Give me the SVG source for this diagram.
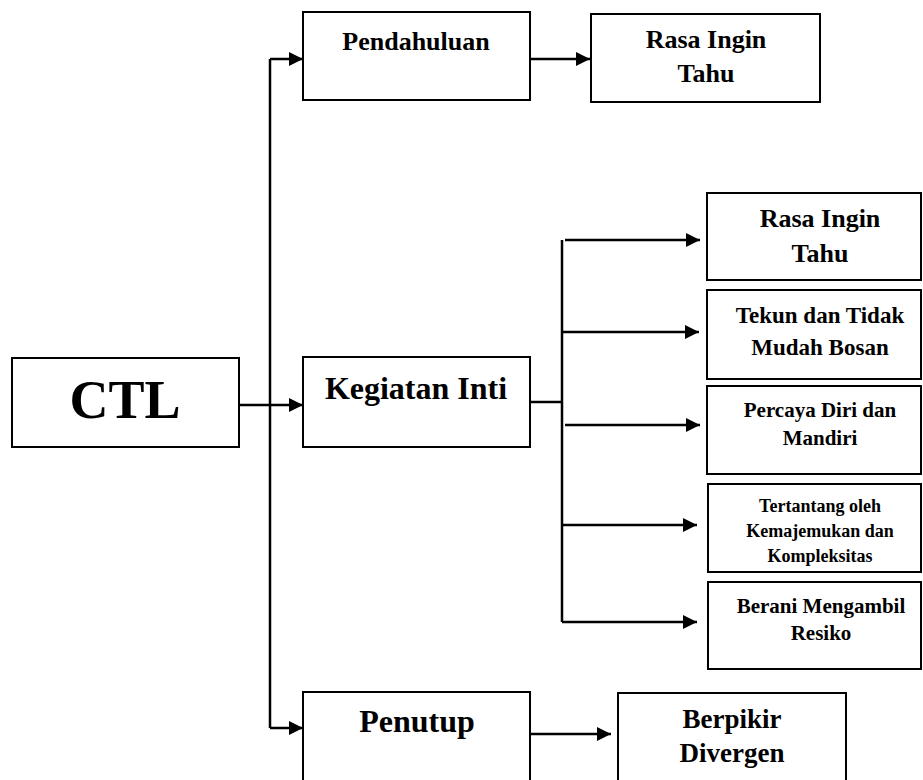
<svg xmlns="http://www.w3.org/2000/svg" width="923" height="780" viewBox="0 0 923 780">
<style>
.box{fill:#fff;stroke:#000;stroke-width:2}
.ln{fill:none;stroke:#000;stroke-width:2.5}
.ar{fill:none;stroke:#000;stroke-width:2.5;marker-end:url(#ah)}
text{font-family:"Liberation Serif","Times New Roman",serif;font-weight:bold;fill:#000;text-anchor:middle}
</style>
<defs>
<marker id="ah" markerUnits="userSpaceOnUse" markerWidth="15" markerHeight="14" refX="14" refY="7" orient="auto">
<path d="M0,0 L14,7 L0,14 z" fill="#000"/>
</marker>
</defs>
<rect width="923" height="780" fill="#fff"/>
<g id="connectors">
<path class="ln" d="M270,59 V728"/>
<path class="ar" d="M270,59 H303"/>
<path class="ar" d="M239,405 H303"/>
<path class="ar" d="M270,728 H303"/>
<path class="ar" d="M530,59 H590"/>
<path class="ar" d="M528,734 H611"/>
<path class="ln" d="M530,402 H562"/>
<path class="ln" d="M562,240 V622"/>
<path class="ar" d="M565,240 H700"/>
<path class="ar" d="M562,332 H699"/>
<path class="ar" d="M565,425 H700"/>
<path class="ar" d="M562,525 H697"/>
<path class="ar" d="M562,622 H697"/>
</g>
<g id="ctl"><rect class="box" x="12" y="358" width="227" height="89"/><text x="125" y="418" font-size="54">CTL</text></g>
<g id="pendahuluan"><rect class="box" x="303" y="12" width="227" height="88"/><text x="416" y="50" font-size="26">Pendahuluan</text></g>
<g id="rasa-top"><rect class="box" x="591" y="14" width="229" height="88"/><text x="706" y="48" font-size="26">Rasa Ingin</text><text x="706" y="82" font-size="26">Tahu</text></g>
<g id="kegiatan"><rect class="box" x="303" y="357" width="227" height="90"/><text x="416" y="399" font-size="32">Kegiatan Inti</text></g>
<g id="penutup"><rect class="box" x="303" y="692" width="227" height="100"/><text x="417" y="732" font-size="32">Penutup</text></g>
<g id="berpikir"><rect class="box" x="618" y="693" width="228" height="100"/><text x="732" y="728" font-size="27">Berpikir</text><text x="732" y="762" font-size="27">Divergen</text></g>
<g id="rasa-right"><rect class="box" x="707" y="193" width="214" height="87"/><text x="820" y="227" font-size="26">Rasa Ingin</text><text x="820" y="262" font-size="26">Tahu</text></g>
<g id="tekun"><rect class="box" x="707" y="290" width="214" height="89"/><text x="820" y="323" font-size="23">Tekun dan Tidak</text><text x="820" y="355" font-size="23">Mudah Bosan</text></g>
<g id="percaya"><rect class="box" x="707" y="386" width="214" height="88"/><text x="820" y="417" font-size="21">Percaya Diri dan</text><text x="820" y="445" font-size="21">Mandiri</text></g>
<g id="tertantang"><rect class="box" x="708" y="484" width="213" height="88"/><text x="820" y="512" font-size="18">Tertantang oleh</text><text x="820" y="537" font-size="18">Kemajemukan dan</text><text x="820" y="562" font-size="18">Kompleksitas</text></g>
<g id="berani"><rect class="box" x="708" y="582" width="213" height="87"/><text x="821" y="613" font-size="21">Berani Mengambil</text><text x="821" y="640" font-size="21">Resiko</text></g>
</svg>
